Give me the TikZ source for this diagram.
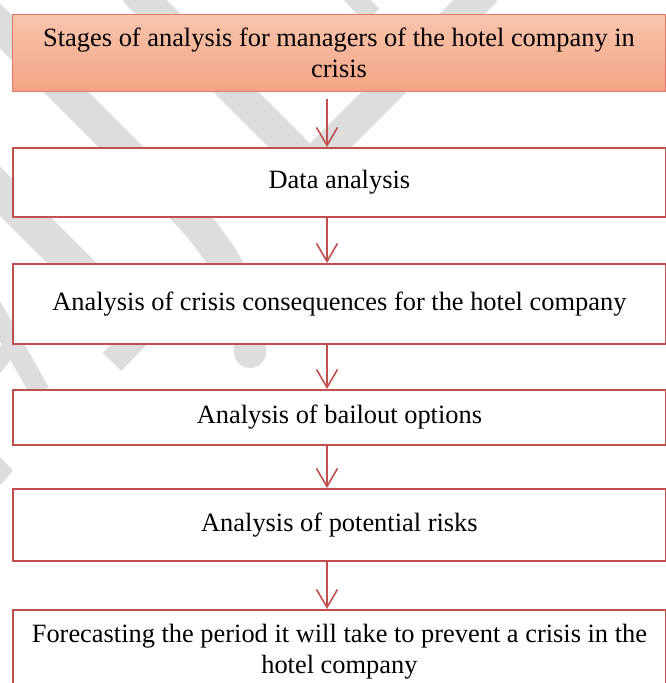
\documentclass[tikz,border=0pt]{standalone}
\usepackage{fontspec}
\setmainfont{Liberation Serif}
\usetikzlibrary{arrows.meta}
\definecolor{boxred}{HTML}{C0504D}
\definecolor{topline}{HTML}{E0786A}
\definecolor{toptop}{HTML}{F8C5AD}
\definecolor{topbot}{HTML}{F4A383}
\definecolor{wm}{HTML}{DDDDDD}
\begin{document}
\begin{tikzpicture}[x=1pt,y=-1pt,
  stagebox/.style={draw=boxred, line width=1.8pt, fill=white, rectangle, anchor=north west,
    minimum width=653pt, align=center, font=\fontsize{26.4}{31.5}\selectfont, inner sep=0pt},
  headbox/.style={stagebox, draw=topline, line width=1.1pt, top color=toptop, bottom color=topbot},
  flowarrow/.style={draw=boxred, line width=1.6pt, -{Straight Barb[length=18pt,width=21pt]}},
  wmband/.style={draw=wm, line width=32pt}]
\useasboundingbox (0,0) rectangle (666,683);
\clip (0,0) rectangle (666,683);
% watermark
\draw[wmband, line cap=round] (-60,-34) -- (180,206) .. controls (222,248) and (250,295) .. (250,352);
\draw[wmband, line join=miter] (134,-10) -- (310,166) -- (486,-10);
\draw[wm, line width=20pt] (350,-8) -- (372,16);
\draw[wm, line width=35pt] (-20,171) -- (140,331);
\draw[wm, line width=20pt] (-12,300) -- (40,392);
\draw[wm, line width=16pt] (-6,368) -- (22,332);
\draw[wm, line width=26pt] (154,318) -- (112,362);
\fill[wm] (0,457) -- (13,470) -- (2,484) -- (0,484) -- cycle;
% boxes
\node[headbox, minimum height=77pt] (b1) at (12,14) {Stages of analysis for managers of the hotel company in\\crisis};
\node[stagebox, minimum height=69pt] (b2) at (12,147) {Data analysis};
\node[stagebox, minimum height=80pt] (b3) at (12,263) {Analysis of crisis consequences for the hotel company};
\node[stagebox, minimum height=55pt] (b4) at (12,389) {Analysis of bailout options};
\node[stagebox, minimum height=72pt] (b5) at (12,488) {Analysis of potential risks};
\node[stagebox, minimum height=84pt] (b6) at (12,609) {Forecasting the period it will take to prevent a crisis in the\\hotel company};
% arrows
\coordinate (ax) at (327,0);
\draw[flowarrow, shorten <=7pt] (b1.south -| ax) -- (b2.north -| ax);
\draw[flowarrow] (b2.south -| ax) -- (b3.north -| ax);
\draw[flowarrow] (b3.south -| ax) -- (b4.north -| ax);
\draw[flowarrow] (b4.south -| ax) -- (b5.north -| ax);
\draw[flowarrow] (b5.south -| ax) -- (b6.north -| ax);
\end{tikzpicture}
\end{document}
